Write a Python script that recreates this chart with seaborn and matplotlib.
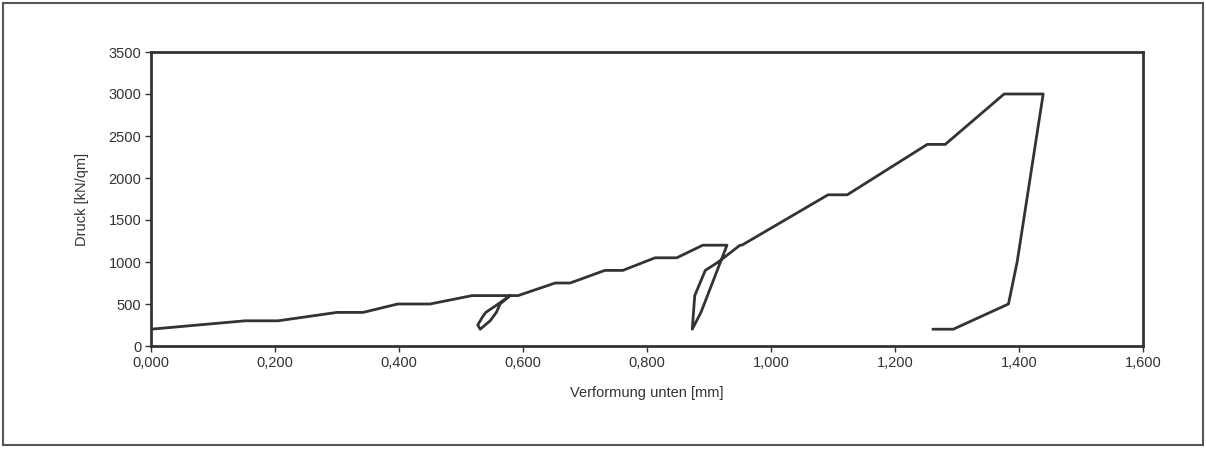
import matplotlib
matplotlib.use("Agg")
import matplotlib.pyplot as plt
from matplotlib.patches import Rectangle
import seaborn as sns
import pandas as pd

# Deformation (mm) and pressure (kN/qm), in measuring order
verformung = [0.000, 0.152, 0.205, 0.300, 0.342, 0.398, 0.450, 0.518, 0.579,
              0.563, 0.557, 0.547, 0.531, 0.527, 0.535, 0.540, 0.560, 0.579,
              0.592, 0.652, 0.676, 0.732, 0.761, 0.813, 0.848, 0.890, 0.929,
              0.887, 0.873, 0.877, 0.894, 0.915, 0.950, 0.953,
              1.092, 1.123, 1.252, 1.281, 1.376, 1.439,
              1.397, 1.383, 1.294, 1.261]
druck = [200, 300, 300, 400, 400, 500, 500, 600, 600,
         500, 400, 300, 200, 250, 350, 400, 500, 600,
         600, 750, 750, 900, 900, 1050, 1050, 1200, 1200,
         400, 200, 600, 900, 1000, 1200, 1200,
         1800, 1800, 2400, 2400, 3000, 3000,
         1000, 500, 200, 200]
x_ticks = [0.0, 0.2, 0.4, 0.6, 0.8, 1.0, 1.2, 1.4, 1.6]
y_ticks = [0, 500, 1000, 1500, 2000, 2500, 3000, 3500]

df = pd.DataFrame({"Verformung": verformung, "Druck": druck,
                   "order": range(len(verformung))})

sns.set_style("white")
plt.rcParams["font.family"] = ["Liberation Sans", "DejaVu Sans"]

fig = plt.figure(figsize=(12.06, 4.49), dpi=100)
ax = fig.add_axes([151 / 1206, 1 - 346 / 449, (1143 - 151) / 1206, (346 - 52) / 449])

sns.lineplot(data=df, x="Verformung", y="Druck", sort=False, estimator=None,
             color="#333333", linewidth=2.0, ax=ax)

ax.set_xlim(0, 1.6)
ax.set_ylim(0, 3500)
ax.set_xticks(x_ticks)
ax.set_xticklabels([f"{v:.3f}".replace(".", ",") for v in x_ticks])
ax.set_yticks(y_ticks)
ax.set_yticklabels([str(v) for v in y_ticks])
ax.tick_params(axis="both", which="major", direction="out", length=4, width=1,
               color="#333333", labelsize=10.5, labelcolor="#333333", pad=3,
               bottom=True, left=True)
for s in ax.spines.values():
    s.set_color("#333333")
    s.set_linewidth(2.0)

ax.set_xlabel("Verformung unten [mm]", fontsize=10.5, color="#333333", labelpad=12)
ax.set_ylabel("Druck [kN/qm]", fontsize=10.5, color="#333333", labelpad=14)

fig.patches.append(Rectangle((3 / 1206, 4 / 449), 1200 / 1206, 442 / 449,
                             transform=fig.transFigure, fill=False,
                             edgecolor="#555555", linewidth=1.5))

fig.savefig("out.png", dpi=100)
